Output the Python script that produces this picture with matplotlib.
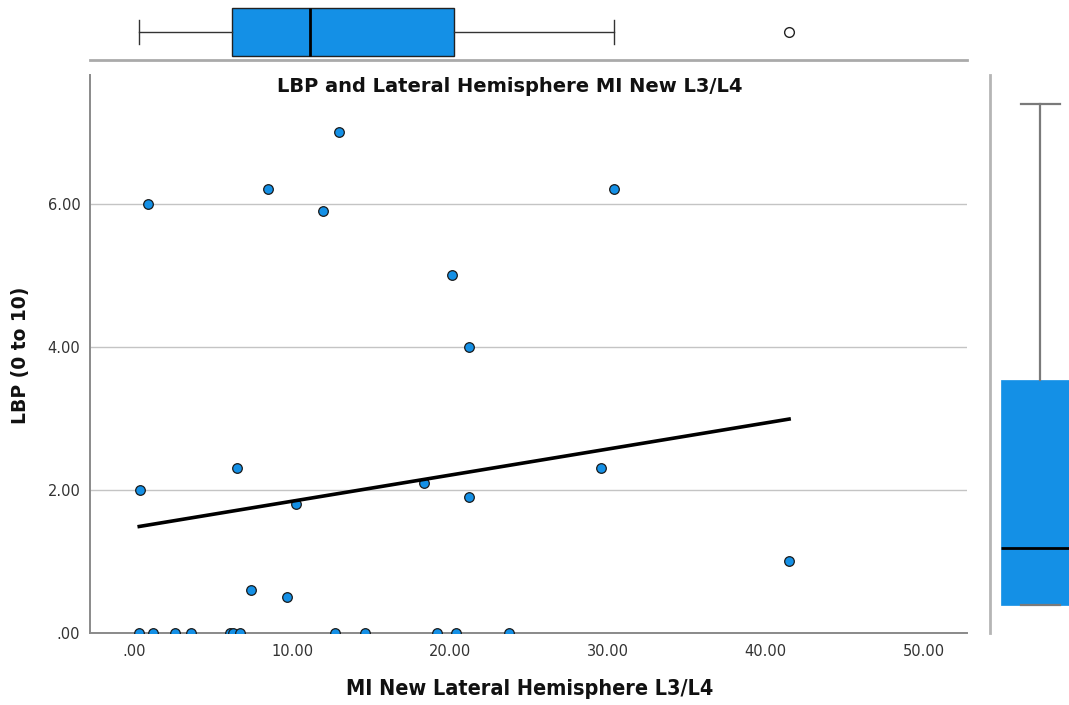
import numpy as np
import matplotlib
matplotlib.use("Agg")
import matplotlib.pyplot as plt
from matplotlib import font_manager as fm

# MI New Lateral Hemisphere L3/L4 (x) against LBP score (y)
mi_lateral = [0.32, 1.20, 2.60, 3.60, 6.08, 6.27, 6.71, 12.73, 14.63, 19.17, 20.39, 23.73,
              0.89, 0.38, 8.49, 12.98, 11.97, 30.40, 20.14, 21.20, 6.52, 10.26, 18.37,
              21.20, 29.58, 41.48, 7.41, 9.67]
lbp = [0, 0, 0, 0, 0, 0, 0, 0, 0, 0, 0, 0,
       6.0, 2.0, 6.2, 7.0, 5.9, 6.2, 5.0, 4.0, 2.3, 1.8, 2.1,
       1.9, 2.3, 1.0, 0.6, 0.5]

x_ticks = [0, 10, 20, 30, 40, 50]
x_tick_labels = [".00", "10.00", "20.00", "30.00", "40.00", "50.00"]
y_ticks = [0, 2, 4, 6]
y_tick_labels = [".00", "2.00", "4.00", "6.00"]

title = "LBP and Lateral Hemisphere MI New L3/L4"
x_title = "MI New Lateral Hemisphere L3/L4"
y_title = "LBP (0 to 10)"

BLUE = "#1490e6"
W, H = 1069, 705


def tukey_stats(values):
    v = np.sort(np.asarray(values, dtype=float))
    n = len(v)
    half = v[: (n + 1) // 2], v[n // 2:]
    q1, q3 = np.median(half[0]), np.median(half[1])
    iqr = q3 - q1
    inside = v[(v >= q1 - 1.5 * iqr) & (v <= q3 + 1.5 * iqr)]
    fliers = v[(v < q1 - 1.5 * iqr) | (v > q3 + 1.5 * iqr)]
    return dict(med=np.median(v), q1=q1, q3=q3, whislo=inside.min(),
                whishi=inside.max(), fliers=fliers)


def px_axes(left, top, right, bottom):
    return fig.add_axes([left / W, 1 - bottom / H, (right - left) / W, (bottom - top) / H])


# narrow bold face for the x axis title, if one is installed
narrow = None
for f in fm.fontManager.ttflist:
    if ("Narrow" in f.name or "Condensed" in f.name or f.stretch == "condensed") \
            and f.weight in ("bold", 700):
        narrow = f.fname
        break
if narrow:
    x_title_font = dict(fontproperties=fm.FontProperties(fname=narrow, size=15.5))
else:
    x_title_font = dict(fontsize=14, fontweight="bold")

fig = plt.figure(figsize=(W / 100, H / 100), dpi=100)

# main scatter
ax = px_axes(90, 75, 967, 633)
ax.scatter(mi_lateral, lbp, s=48, color=BLUE, edgecolors="#1a1a1a", linewidths=0.9, zorder=3)

coef = np.polyfit(mi_lateral, lbp, 1)
xl = np.array([min(mi_lateral), max(mi_lateral)])
ax.plot(xl, np.polyval(coef, xl), color="black", lw=2.6, zorder=4)

ax.set_xlim(-2.8, 52.75)
ax.set_ylim(0, 7.8)
ax.set_xticks(x_ticks, x_tick_labels)
ax.set_yticks(y_ticks, y_tick_labels)
ax.tick_params(axis="both", length=0, labelsize=10.5, labelcolor="#333333")
ax.tick_params(axis="x", pad=8)
ax.tick_params(axis="y", pad=7)
ax.grid(axis="y", color="#c4c4c4", lw=1)
ax.set_axisbelow(True)
for side in ("top", "right"):
    ax.spines[side].set_visible(False)
for side in ("left", "bottom"):
    ax.spines[side].set_color("#8a8a8a")
    ax.spines[side].set_linewidth(1.4)

fig.text(510 / W, 1 - 86 / H, title, ha="center", va="center",
         fontsize=14, fontweight="bold", color="#111111")
fig.text(530 / W, 1 - 689 / H, x_title, ha="center", va="center",
         color="#111111", **x_title_font)
fig.text(21 / W, 1 - 355 / H, y_title, ha="center", va="center", rotation=90,
         fontsize=13.5, fontweight="bold", color="#111111")

# marginal box plot for x
axt = px_axes(90, 0, 967, 60)
axt.bxp([tukey_stats(mi_lateral)], positions=[28], widths=48, orientation="horizontal",
        patch_artist=True,
        boxprops=dict(facecolor=BLUE, edgecolor="#222222", lw=1),
        whiskerprops=dict(color="#333333", lw=1),
        capprops=dict(color="#333333", lw=1),
        medianprops=dict(color="black", lw=2),
        flierprops=dict(marker="o", markersize=7, markerfacecolor="white",
                        markeredgecolor="#222222", markeredgewidth=1))
axt.set_xlim(ax.get_xlim())
axt.set_ylim(0, 60)
axt.set_xticks([])
axt.set_yticks([])
for side in ("top", "right", "left"):
    axt.spines[side].set_visible(False)
axt.spines["bottom"].set_color("#aaaaaa")
axt.spines["bottom"].set_linewidth(2)

# marginal box plot for y
axr = px_axes(990, 75, 1069, 633)
axr.bxp([tukey_stats(lbp)], positions=[50], widths=78, orientation="vertical",
        patch_artist=True,
        boxprops=dict(facecolor=BLUE, edgecolor=BLUE, lw=0.5),
        whiskerprops=dict(color="#7a7a7a", lw=1.6),
        capprops=dict(color="#7a7a7a", lw=1.6),
        medianprops=dict(color="black", lw=2),
        flierprops=dict(marker="o", markerfacecolor="white", markeredgecolor="#222222"))
axr.set_xlim(0, 79)
axr.set_ylim(-0.39, 7.41)
axr.set_xticks([])
axr.set_yticks([])
for side in ("top", "right", "bottom"):
    axr.spines[side].set_visible(False)
axr.spines["left"].set_color("#b5b5b5")
axr.spines["left"].set_linewidth(2)

fig.savefig("out.png", dpi=100)
